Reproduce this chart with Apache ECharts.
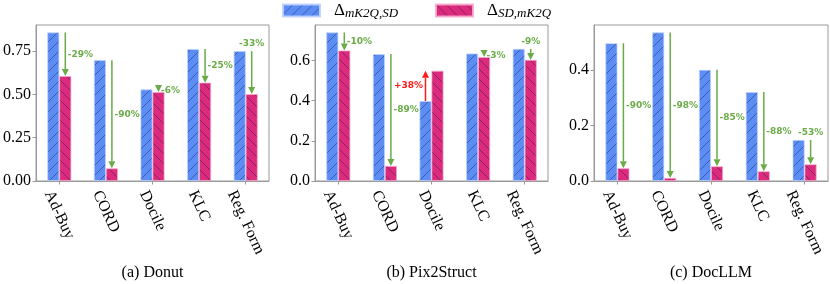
<!DOCTYPE html>
<html><head><meta charset="utf-8">
<script src="https://cdn.jsdelivr.net/npm/echarts@6/dist/echarts.min.js"></script>
<style>html,body{margin:0;padding:0;background:#fff}#c{width:830px;height:284px}</style>
</head><body><div id="c"></div>
<script>
// ---------------- data ----------------
const categories = ['Ad-Buy', 'CORD', 'Docile', 'KLC', 'Reg. Form'];
const seriesNames = ['mk', 'sd'];
const donutMk = [0.858, 0.698, 0.529, 0.762, 0.750];
const donutSd = [0.606, 0.073, 0.514, 0.568, 0.502];
const donutPct = [-29, -90, -6, -25, -33];
const pixMk = [0.740, 0.632, 0.398, 0.635, 0.658];
const pixSd = [0.650, 0.075, 0.549, 0.617, 0.603];
const pixPct = [-10, -89, 38, -3, -9];
const docMk = [0.497, 0.536, 0.401, 0.321, 0.148];
const docSd = [0.046, 0.011, 0.053, 0.035, 0.060];
const docPct = [-90, -98, -85, -88, -53];
const titles = ['(a) Donut', '(b) Pix2Struct', '(c) DocLLM'];
const yTickIntervals = [0.25, 0.2, 0.2];
const yTickDecimals = [2, 1, 1];

// ---------------- style / layout ----------------
const panels = [
  {mk: donutMk, sd: donutSd, pct: donutPct},
  {mk: pixMk, sd: pixSd, pct: pixPct},
  {mk: docMk, sd: docSd, pct: docPct}
];
const gridLeft = [36, 315, 594];
const gridWidth = [233, 233, 234];
const GRID_TOP = 25, GRID_H = 156;
const BAR = 12;
const SERIF = 'Liberation Serif';
const SANS = 'DejaVu Sans';
const GREEN = '#6aab48', RED = '#ff1a1a', FRAME = '#9a9a9a';
const LABEL_FS = 16, LABEL_ANGLE = 65;

function hatch(bg, forward) {
  const s = 10;
  const c = document.createElement('canvas');
  c.width = s; c.height = s;
  const g = c.getContext('2d');
  g.fillStyle = bg; g.fillRect(0, 0, s, s);
  g.strokeStyle = 'rgba(30,30,70,0.55)';
  g.lineWidth = 0.8;
  g.beginPath();
  if (forward) {
    g.moveTo(0, s); g.lineTo(s, 0);
    g.moveTo(-1, 1); g.lineTo(1, -1);
    g.moveTo(s - 1, s + 1); g.lineTo(s + 1, s - 1);
  } else {
    g.moveTo(0, 0); g.lineTo(s, s);
    g.moveTo(-1, s - 1); g.lineTo(1, s + 1);
    g.moveTo(s - 1, -1); g.lineTo(s + 1, 1);
  }
  g.stroke();
  return {image: c, repeat: 'repeat'};
}
const blueFill = hatch('#5b8df5', true);
const pinkFill = hatch('#dc2a7c', false);

const measureCtx = document.createElement('canvas').getContext('2d');
measureCtx.font = LABEL_FS + 'px ' + SERIF;

function arrowItem(params, api) {
  const i = api.value(0), b = api.value(1), r = api.value(2), pct = api.value(3);
  const p1 = api.coord([i, b]), p2 = api.coord([i, r]);
  const up = r > b;
  const x = p1[0] + (up ? -BAR / 2 : BAR / 2);
  const y1 = p1[1], y2 = p2[1];
  const dir = up ? -1 : 1;
  const col = up ? RED : GREEN;
  const headL = 7, headW = 3.5;
  const children = [
    {type: 'line', shape: {x1: x, y1: y1, x2: x, y2: y2 - dir * headL}, style: {stroke: col, lineWidth: 1.5}},
    {type: 'polygon', shape: {points: [[x, y2], [x - headW, y2 - dir * headL], [x + headW, y2 - dir * headL]]}, style: {fill: col}}
  ];
  const last = i === categories.length - 1;
  let tx, ty, align;
  if (last) { tx = x; ty = y1 - 7; align = 'center'; }
  else if (up) { tx = x - 2.5; ty = (y1 + y2) / 2; align = 'right'; }
  else { tx = x + 2.5; ty = (y1 + y2) / 2; align = 'left'; }
  children.push({type: 'text', x: tx, y: ty, style: {
    text: (pct > 0 ? '+' : '') + pct + '%', fill: col,
    fontFamily: SANS, fontSize: 9, fontWeight: 'bold', align: align, verticalAlign: 'middle'}});
  return {type: 'group', children: children};
}

function labelItem(params, api) {
  const i = api.value(0);
  const p = api.coord([i, 0]);
  const t = categories[i];
  const L = measureCtx.measureText(t).width;
  const th = LABEL_ANGLE * Math.PI / 180;
  const h = L * Math.sin(th) + LABEL_FS * Math.cos(th);
  return {type: 'text', x: p[0], y: p[1] + 7 + h / 2, rotation: -th,
    style: {text: t, fontFamily: SERIF, fontSize: LABEL_FS, fill: '#000', align: 'center', verticalAlign: 'middle'}};
}

const grid = [], xAxis = [], yAxis = [], series = [], title = [];
panels.forEach((p, k) => {
  grid.push({left: gridLeft[k], width: gridWidth[k], top: GRID_TOP, height: GRID_H,
    show: true, borderColor: FRAME, borderWidth: 1, backgroundColor: 'transparent'});
  xAxis.push({type: 'category', gridIndex: k, data: categories,
    axisLine: {show: true, lineStyle: {color: FRAME, width: 1}},
    axisTick: {show: true, alignWithLabel: true, length: 3.5, lineStyle: {color: FRAME}},
    axisLabel: {show: false}, splitLine: {show: false}});
  const dec = yTickDecimals[k];
  yAxis.push({type: 'value', gridIndex: k, min: 0, max: v => v.max * 1.05,
    interval: yTickIntervals[k],
    axisLine: {show: true, lineStyle: {color: FRAME, width: 1}},
    axisTick: {show: true, length: 3.5, lineStyle: {color: FRAME}},
    axisLabel: {showMaxLabel: false, margin: 5, color: '#000', fontFamily: SERIF, fontSize: LABEL_FS,
      formatter: v => v.toFixed(dec)},
    splitLine: {show: false}});
  series.push({name: seriesNames[0], type: 'bar', xAxisIndex: k, yAxisIndex: k, data: p.mk,
    barWidth: BAR, barGap: '0%',
    itemStyle: {color: blueFill, borderColor: 'rgba(190,210,255,0.9)', borderWidth: 0.8}});
  series.push({name: seriesNames[1], type: 'bar', xAxisIndex: k, yAxisIndex: k, data: p.sd,
    barWidth: BAR, barGap: '0%',
    itemStyle: {color: pinkFill, borderColor: 'rgba(245,170,205,0.9)', borderWidth: 0.8}});
  series.push({type: 'custom', xAxisIndex: k, yAxisIndex: k, z: 10, clip: false,
    encode: {x: 0, y: [1, 2]}, renderItem: arrowItem,
    data: categories.map((c, i) => [i, p.mk[i], p.sd[i], p.pct[i]])});
  series.push({type: 'custom', xAxisIndex: k, yAxisIndex: k, z: 10, clip: false,
    encode: {x: 0, y: 1}, renderItem: labelItem,
    data: categories.map((c, i) => [i, 0])});
  title.push({text: titles[k], left: gridLeft[k] + gridWidth[k] / 2, top: 265, textAlign: 'center',
    padding: 0,
    textStyle: {fontFamily: SERIF, fontSize: 16, fontWeight: 'normal', color: '#000'}});
});

const chart = echarts.init(document.getElementById('c'), null, {renderer: 'canvas'});
chart.setOption({
  animation: false,
  backgroundColor: '#fff',
  title: title,
  legend: {data: seriesNames, left: 282, top: 2, padding: 0, itemWidth: 37, itemHeight: 12, itemGap: 37,
    icon: 'rect',
    formatter: n => n === 'mk' ? '{d|Δ}{s|mK2Q,SD}' : '{d|Δ}{s|SD,mK2Q}',
    textStyle: {color: '#000', fontFamily: SERIF, rich: {
      d: {fontFamily: SERIF, fontSize: 17, color: '#000', padding: [0, 0, 0, 9]},
      s: {fontFamily: SERIF, fontStyle: 'italic', fontSize: 13, color: '#000', padding: [7, 0, 0, 0]}
    }}},
  grid: grid, xAxis: xAxis, yAxis: yAxis, series: series
});
</script></body></html>
